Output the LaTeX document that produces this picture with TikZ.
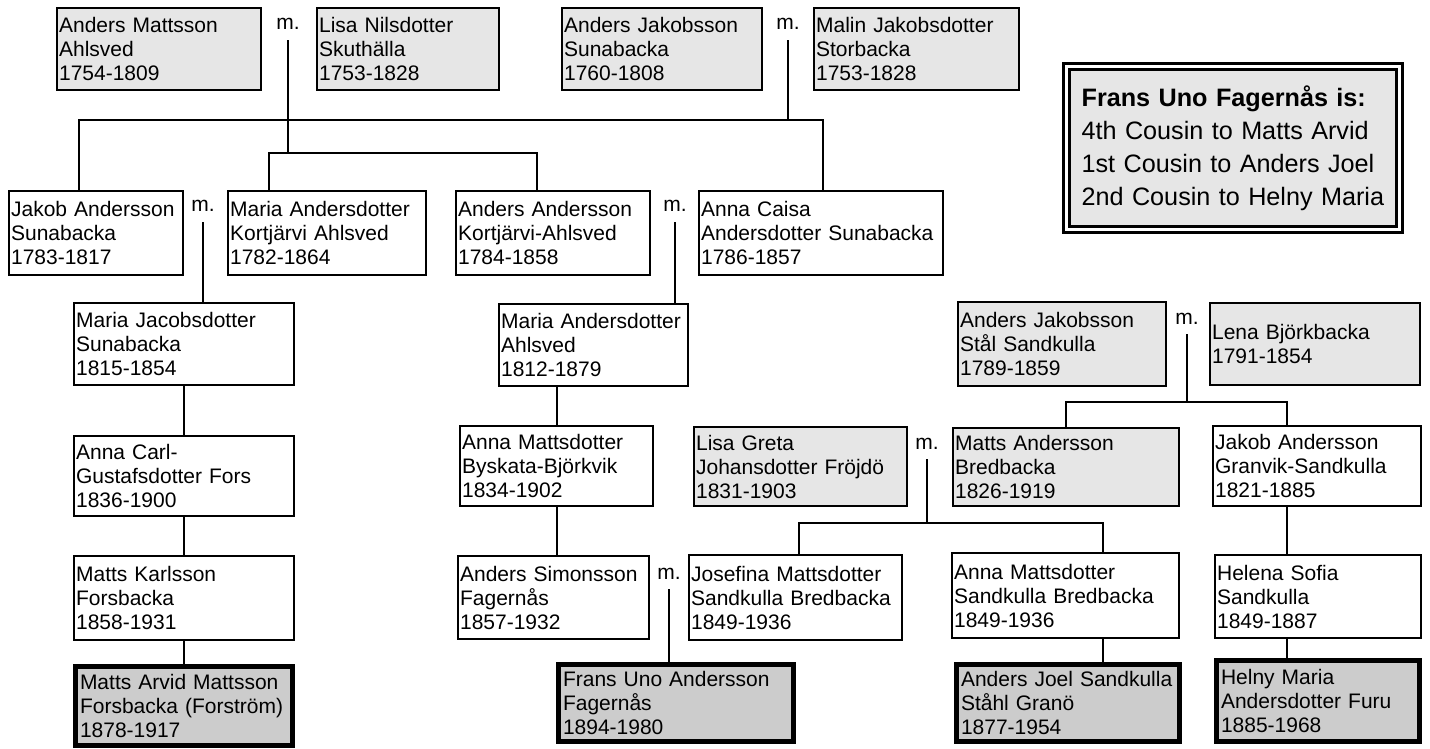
\documentclass[tikz,border=0pt]{standalone}
\usepackage{fontspec}
\setmainfont{Liberation Sans}
\usepackage{tikz}
\usepackage{xcolor}
\definecolor{ancgray}{HTML}{E6E6E6}
\definecolor{kingray}{HTML}{CCCCCC}

\begin{document}
\begin{tikzpicture}[
  x=0.5pt, y=-0.5pt,
  pers/.style={draw, line width=1.1pt, fill=white, anchor=north west, align=left,
               inner xsep=1pt, inner ysep=0pt, font=\fontsize{10.5}{12}\selectfont},
  anc/.style={pers, fill=ancgray},
  kin/.style={pers, line width=2.5pt, fill=kingray, inner xsep=2.25pt},
  mlab/.style={anchor=base, inner sep=0pt, text depth=5pt, font=\fontsize{10.5}{12}\selectfont},
  ln/.style={line width=1.1pt},
  note/.style={draw, line width=1.6pt, double=white, double distance=1.2pt, fill=ancgray,
               anchor=north west, align=left, inner xsep=7.5pt, inner ysep=0pt,
               font=\fontsize{12.6}{16.5}\selectfont},
]
  \useasboundingbox (0,0) rectangle (1430,749);

  % oldest couples
  \node[anc, text width=100pt, minimum height=41pt] (a1) at (56,7) {Anders Mattsson\\Ahlsved\\1754-1809};
  \node[anc, text width=89pt, minimum height=41pt] (a2) at (316,7) {Lisa Nilsdotter\\Skuthälla\\1753-1828};
  \node[anc, text width=98pt, minimum height=41pt] (a3) at (561,7) {Anders Jakobsson\\Sunabacka\\1760-1808};
  \node[anc, text width=100.5pt, minimum height=41pt] (a4) at (813,7) {Malin Jakobsdotter\\Storbacka\\1753-1828};
  \node[mlab] (m1) at (288,30) {m.};
  \node[mlab] (m2) at (788,30) {m.};

  \node[note, text width=151.5pt, minimum height=81.5pt] (key) at (1065,65)
    {\textbf{Frans Uno Fagernås is:}\\4th Cousin to Matts Arvid\\1st Cousin to Anders Joel\\2nd Cousin to Helny Maria};

  % their children
  \node[pers, text width=85pt, minimum height=42pt] (b1) at (8,190) {Jakob Andersson\\Sunabacka\\1783-1817};
  \node[pers, text width=97pt, minimum height=42pt] (b2) at (227,190) {Maria Andersdotter\\Kortjärvi Ahlsved\\1782-1864};
  \node[pers, text width=95pt, minimum height=42pt] (b3) at (455,190) {Anders Andersson\\Kortjärvi-Ahlsved\\1784-1858};
  \node[pers, text width=120pt, minimum height=42pt] (b4) at (698,190) {Anna Caisa\\Andersdotter Sunabacka\\1786-1857};
  \node[mlab] (m3) at (203,212) {m.};
  \node[mlab] (m4) at (675,212) {m.};

  % left line
  \node[pers, text width=108pt, minimum height=41pt] (c1) at (73,302) {Maria Jacobsdotter\\Sunabacka\\1815-1854};
  \node[pers, text width=108pt, minimum height=40pt] (c3) at (73,435) {Anna Carl-\\Gustafsdotter Fors\\1836-1900};
  \node[pers, text width=108pt, minimum height=42pt] (c5) at (73,555) {Matts Karlsson\\Forsbacka\\1858-1931};
  \node[kin, text width=104pt, minimum height=39.5pt] (c7) at (73,664) {Matts Arvid Mattsson\\Forsbacka (Forström)\\1878-1917};

  % middle line
  \node[pers, text width=92.5pt, minimum height=41pt] (c2) at (498,303) {Maria Andersdotter\\Ahlsved\\1812-1879};
  \node[pers, text width=94.5pt, minimum height=40pt] (c4) at (459,425) {Anna Mattsdotter\\Byskata-Björkvik\\1834-1902};
  \node[pers, text width=93.5pt, minimum height=41.5pt] (c6) at (457,555) {Anders Simonsson\\Fagernås\\1857-1932};
  \node[mlab] (m7) at (669,579) {m.};
  \node[kin, text width=113pt, minimum height=38.5pt] (f1) at (556,662) {Frans Uno Andersson\\Fagernås\\1894-1980};

  % Sandkulla side
  \node[anc, text width=102pt, minimum height=42pt] (d1) at (957,301) {Anders Jakobsson\\Stål Sandkulla\\1789-1859};
  \node[anc, text width=103pt, minimum height=41pt] (d2) at (1209,302) {Lena Björkbacka\\1791-1854};
  \node[mlab] (m5) at (1187,324) {m.};
  \node[anc, text width=104.5pt, minimum height=39.5pt] (e1) at (693,426) {Lisa Greta\\Johansdotter Fröjdö\\1831-1903};
  \node[mlab] (m6) at (927,449) {m.};
  \node[anc, text width=111pt, minimum height=39pt] (d3) at (952,427) {Matts Andersson\\Bredbacka\\1826-1919};
  \node[pers, text width=102pt, minimum height=40pt] (d4) at (1212,425) {Jakob Andersson\\Granvik-Sandkulla\\1821-1885};
  \node[pers, text width=104.5pt, minimum height=42.5pt] (e2) at (688,554) {Josefina Mattsdotter\\Sandkulla Bredbacka\\1849-1936};
  \node[pers, text width=111.5pt, minimum height=42.5pt] (e3) at (951,552) {Anna Mattsdotter\\Sandkulla Bredbacka\\1849-1936};
  \node[pers, text width=101pt, minimum height=41.5pt] (d5) at (1214,554) {Helena Sofia\\Sandkulla\\1849-1887};
  \node[kin, text width=107pt, minimum height=38.5pt] (e4) at (954,662) {Anders Joel Sandkulla\\Ståhl Granö\\1877-1954};
  \node[kin, text width=97pt, minimum height=40.5pt] (d6) at (1214,658) {Helny Maria\\Andersdotter Furu\\1885-1968};

  % connectors
  \coordinate (k1) at (288,153);
  \coordinate (k2) at (788,120);
  \coordinate (k5) at (1187,402);
  \coordinate (k6) at (927,523);
  \coordinate (e3d) at ([xshift=76pt]e3.south west);
  \coordinate (d4d) at ([xshift=37.5pt]d4.south west);

  \draw[ln] (m1.south) -- (k1);
  \draw[ln] (m2.south) -- (k2);
  \draw[ln] ([xshift=21pt]b2.north west) |- (k1) -| ([xshift=41pt]b3.north west);
  \draw[ln] ([xshift=35.5pt]b1.north west) |- (k2) -| ([xshift=62.5pt]b4.north west);
  \draw[ln] (m3.south) -- (m3.south |- c1.north);
  \draw[ln] (m4.south) -- (m4.south |- c2.north);
  \draw[ln] (c1.south) -- (c1.south |- c3.north);
  \draw[ln] (c3.south) -- (c3.south |- c5.north);
  \draw[ln] (c5.south) -- (c5.south |- c7.north);
  \draw[ln] (c4.north |- c2.south) -- (c4.north);
  \draw[ln] (c4.south) -- (c4.south |- c6.north);
  \draw[ln] (m7.south) -- (m7.south |- f1.north);
  \draw[ln] (m5.south) -- (k5);
  \draw[ln] (d3.north) |- (k5) -| ([xshift=37.5pt]d4.north west);
  \draw[ln] (d4d) -- (d4d |- d5.north);
  \draw[ln] (d4d |- d5.south) -- (d4d |- d6.north);
  \draw[ln] (m6.south) -- (k6);
  \draw[ln] ([xshift=55.5pt]e2.north west) |- (k6) -| ([xshift=76pt]e3.north west);
  \draw[ln] (e3d) -- (e3d |- e4.north);
\end{tikzpicture}
\end{document}
